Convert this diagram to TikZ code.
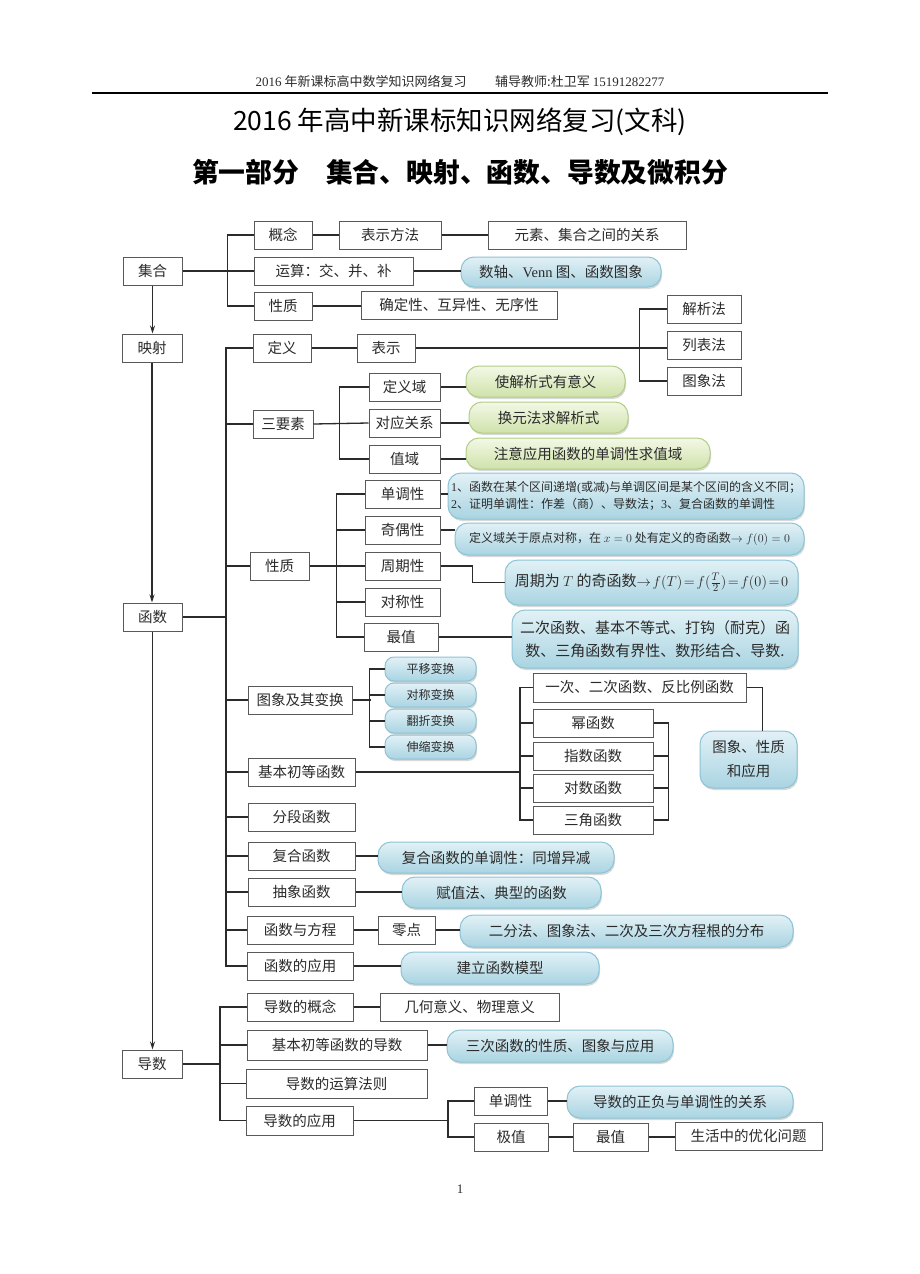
\documentclass[tikz,border=0pt]{standalone}
\usepackage{fontspec}
\setmainfont{Liberation Serif}
\newfontfamily\cjk{Noto Sans CJK SC}
\newfontfamily\tm{Liberation Serif}
\usetikzlibrary{arrows.meta,shadows}
\definecolor{bluebd}{HTML}{8CC3D5}
\definecolor{bluetop}{HTML}{E2F1F6}
\definecolor{bluebot}{HTML}{A9D4E2}
\definecolor{greenbd}{HTML}{B3CD86}
\definecolor{greentop}{HTML}{F3F8E6}
\definecolor{greenbot}{HTML}{CFE2AA}
\definecolor{ink}{HTML}{2B2B2B}
\newcommand{\fsz}[2]{\fontsize{#1}{#2}\selectfont}
\newcommand{\eqs}{\mkern2mu{=}\mkern2mu}
\newcommand{\R}[6]{\node[rbox,minimum width=#4,minimum height=#5] (#1) at (#2,#3) {#6};}
\newcommand{\B}[6]{\node[bnote,minimum width=#4,minimum height=#5] (#1) at (#2,#3) {#6};}
\newcommand{\G}[6]{\node[gnote,minimum width=#4,minimum height=#5] (#1) at (#2,#3) {#6};}
\begin{document}
\begin{tikzpicture}[x=1pt,y=-1pt,
 line/.style={draw=ink, line width=1.3pt},
 rbox/.style={draw=black!65, line width=1pt, fill=white, inner sep=0pt, text=ink, font=\cjk\fsz{14.5}{17},
   drop shadow={shadow xshift=1pt,shadow yshift=-1pt,opacity=0.25}},
 bnote/.style={draw=bluebd, line width=1pt, top color=bluetop, bottom color=bluebot, rounded corners=13pt,
   inner sep=0pt, text=ink, font=\cjk\fsz{14.5}{17},
   drop shadow={shadow xshift=1pt,shadow yshift=-2pt,opacity=0.3}},
 gnote/.style={bnote, draw=greenbd, top color=greentop, bottom color=greenbot},
 arr/.style={draw=ink, line width=1.3pt, -{Stealth[length=8pt,width=5pt]}}
]
\useasboundingbox (0,0) rectangle (920,1274);
\fill[white] (0,0) rectangle (920,1274);

% header and titles
\node[font=\cjk\fsz{13}{15}, text=ink] (hdr) at (460,81) {{\tm 2016} 年新课标高中数学知识网络复习\hspace{2.2em}辅导教师:杜卫军 {\tm 15191282277}};
\draw[line width=1.5pt] (92,93) -- (828,93);
\node[font=\cjk\fsz{26.5}{30}] (t1) at (460,122) {2016 年高中新课标知识网络复习(文科)};
\node[font=\cjk\bfseries\fsz{26.8}{30}] (t2) at (460,172) {第一部分\hspace{1em}集合、映射、函数、导数及微积分};

% left column
\R{jihe}{152.5}{271}{59}{28}{集合}
\R{yingshe}{152}{348}{60}{28}{映射}
\R{hanshu}{152.5}{617}{59}{28}{函数}
\R{daoshu}{152}{1064}{60}{28}{导数}
\draw[arr] (jihe.south) -- (jihe.south |- yingshe.north);
\draw[arr] (yingshe.south) -- (yingshe.south |- hanshu.north);
\draw[arr] (hanshu.south) -- (hanshu.south |- daoshu.north);

% 集合 branch
\R{gainian}{283}{235}{58}{28}{概念}
\R{bsff}{390}{235}{102}{28}{表示方法}
\R{yuansu}{587}{235}{198}{28}{元素、集合之间的关系}
\R{yunsuan}{333.5}{271}{159}{28}{运算：交、并、补}
\B{venn}{561}{272}{200}{30}{数轴、{\tm Venn} 图、函数图象}
\R{xingzhiA}{283}{306}{58}{28}{性质}
\R{queding}{459}{305}{196}{28}{确定性、互异性、无序性}
\draw[line] (jihe.east) -- (yunsuan.west);
\draw[line] (gainian.west) -- ++(-26,0) |- (xingzhiA.west);
\draw[line] (gainian.east) -- (bsff.west);
\draw[line] (bsff.east) -- (yuansu.west);
\draw[line] (yunsuan.east) -- (venn.west |- yunsuan.east);
\draw[line] (xingzhiA.east) -- (queding.west |- xingzhiA.east);

% 函数 branch
\coordinate (sp) at (226,0);
\R{dingyi}{282}{348}{58}{28}{定义}
\R{biaoshi}{386}{348}{58}{28}{表示}
\R{jiexi}{704}{309}{74}{28}{解析法}
\R{liebiao}{704}{345}{74}{28}{列表法}
\R{tuxiangfa}{704}{381}{74}{28}{图象法}
\R{sanyaosu}{283}{424}{60}{28}{三要素}
\R{dingyiyu}{404.5}{387}{71}{28}{定义域}
\R{duiying}{404.5}{423}{71}{28}{对应关系}
\R{zhiyu}{404.5}{459}{71}{28}{值域}
\G{jxs}{545.5}{381.5}{159}{31}{使解析式有意义}
\G{hy}{548.5}{417.5}{159}{31}{换元法求解析式}
\G{zysx}{588}{453.5}{244}{31}{注意应用函数的单调性求值域}
\R{xingzhiB}{279.5}{566}{59}{28}{性质}
\R{dandiao}{402.5}{494}{75}{28}{单调性}
\R{jiou}{402.5}{530}{75}{28}{奇偶性}
\R{zhouqi}{402.5}{566}{75}{28}{周期性}
\R{duichen}{402.5}{602}{75}{28}{对称性}
\R{zuizhiA}{401}{637}{74}{28}{最值}
\node[bnote,minimum width=356,minimum height=46,align=left,font=\cjk\fsz{12}{17.5}] (ddnote) at (626,496)
 {{\tm 1}、函数在某个区间递增{\tm (}或减{\tm )}与单调区间是某个区间的含义不同；\\{\tm 2}、证明单调性：作差（商）、导数法；{\tm 3}、复合函数的单调性};
\node[bnote,minimum width=349,minimum height=32,font=\cjk\fsz{12}{14}] (jionote) at (629.5,539)
 {定义域关于原点对称，在 $x=0$ 处有定义的奇函数$\rightarrow f(0)=0$};
\node[bnote,minimum width=293,minimum height=45,font=\cjk\fsz{15}{18}] (zqnote) at (651.5,582.5)
 {周期为 $T$ 的奇函数$\rightarrow\!f(T)\eqs f(\frac{T}{2})\eqs f(0)\eqs 0$};
\node[bnote,minimum width=286,minimum height=58,align=center,font=\cjk\fsz{15}{23}] (zznote) at (655,639)
 {二次函数、基本不等式、打钩（耐克）函\\数、三角函数有界性、数形结合、导数.};
\R{tuxiangbh}{300}{700}{104}{28}{图象及其变换}
\node[bnote,minimum width=91,minimum height=24,rounded corners=9pt,font=\cjk\fsz{12}{14}] (pingyi) at (430.5,669) {平移变换};
\node[bnote,minimum width=91,minimum height=24,rounded corners=9pt,font=\cjk\fsz{12}{14}] (duichenbh) at (430.5,695) {对称变换};
\node[bnote,minimum width=91,minimum height=24,rounded corners=9pt,font=\cjk\fsz{12}{14}] (fanzhe) at (430.5,721) {翻折变换};
\node[bnote,minimum width=91,minimum height=24,rounded corners=9pt,font=\cjk\fsz{12}{14}] (shensuo) at (430.5,747) {伸缩变换};
\R{jichu}{301.5}{772}{107}{28}{基本初等函数}
\R{yici}{639.5}{687.5}{213}{29}{一次、二次函数、反比例函数}
\R{mi}{593}{723}{120}{28}{幂函数}
\R{zhishu}{593}{756}{120}{28}{指数函数}
\R{duishu}{593}{788}{120}{28}{对数函数}
\R{sanjiao}{593}{820}{120}{28}{三角函数}
\node[bnote,minimum width=97,minimum height=57,align=center,font=\cjk\fsz{14.5}{24}] (txxz) at (748.5,759.5) {图象、性质\\和应用};
\R{fenduan}{301.5}{817}{107}{28}{分段函数}
\R{fuhe}{301.5}{856}{107}{28}{复合函数}
\B{fhnote}{496}{857.5}{236}{31}{复合函数的单调性：同增异减}
\R{chouxiang}{301.5}{892}{107}{28}{抽象函数}
\B{fznote}{501.5}{892.5}{199}{31}{赋值法、典型的函数}
\R{fangcheng}{300}{930}{106}{28}{函数与方程}
\R{lingdian}{406.5}{930}{57}{28}{零点}
\B{lingnote}{626.5}{931}{333}{32}{二分法、图象法、二次及三次方程根的分布}
\R{yingyong}{300}{966}{106}{28}{函数的应用}
\B{mxnote}{500}{968}{198}{32}{建立函数模型}

\draw[line] (hanshu.east) -- (hanshu.east -| sp);
\draw[line] (dingyi.west) -- (dingyi.west -| sp) |- (yingyong.west);
\foreach \n in {sanyaosu,xingzhiB,tuxiangbh,jichu,fenduan,fuhe,chouxiang,fangcheng}
  \draw[line] (\n.west) -- (\n.west -| sp);
\draw[line] (dingyi.east) -- (biaoshi.west);
\draw[line] (biaoshi.east) -- (liebiao.west |- biaoshi.east);
\draw[line] (jiexi.west) -- ++(-27,0) |- (tuxiangfa.west);
\draw[line] (sanyaosu.east) -- (duiying.west);
\draw[line] (dingyiyu.west) -- ++(-29,0) |- (zhiyu.west);
\draw[line] (dingyiyu.east) -- (jxs.west |- dingyiyu.east);
\draw[line] (duiying.east) -- (hy.west |- duiying.east);
\draw[line] (zhiyu.east) -- (zysx.west |- zhiyu.east);
\draw[line] (xingzhiB.east) -- (zhouqi.west);
\draw[line] (dandiao.west) -- ++(-28,0) |- (zuizhiA.west);
\foreach \n in {jiou,duichen}
  \draw[line] (\n.west) -- ++(-28,0);
\draw[line] (dandiao.east) -- (ddnote.west |- dandiao.east);
\draw[line] (jiou.east) -- (jionote.west |- jiou.east);
\draw[line] (zhouqi.east) -- ++(32,0) |- (zqnote.west);
\draw[line] (zuizhiA.east) -- (zznote.west |- zuizhiA.east);
\draw[line] (tuxiangbh.east) -- ++(18,0);
\draw[line] (pingyi.west) -- ++(-15,0) |- (shensuo.west);
\foreach \n in {duichenbh,fanzhe}
  \draw[line] (\n.west) -- ++(-15,0);
\coordinate (sp3) at (520,0);
\draw[line] (jichu.east) -- (jichu.east -| sp3);
\draw[line] (yici.west) -- (yici.west -| sp3) |- (sanjiao.west);
\foreach \n in {mi,zhishu,duishu}
  \draw[line] (\n.west) -- (\n.west -| sp3);
\draw[line] (mi.east) -- ++(15,0) |- (sanjiao.east);
\foreach \n in {zhishu,duishu}
  \draw[line] (\n.east) -- ++(15,0);
\draw[line] (yici.east) -- ++(16,0) coordinate (c1) -- (c1 |- txxz.north);
\draw[line] (fuhe.east) -- (fhnote.west |- fuhe.east);
\draw[line] (chouxiang.east) -- (fznote.west |- chouxiang.east);
\draw[line] (fangcheng.east) -- (lingdian.west);
\draw[line] (lingdian.east) -- (lingnote.west |- lingdian.east);
\draw[line] (yingyong.east) -- (mxnote.west |- yingyong.east);

% 导数 branch
\coordinate (sp4) at (220,0);
\coordinate (sp5) at (448,0);
\R{dsgn}{300}{1007}{106}{28}{导数的概念}
\R{jhyy}{469.5}{1007}{179}{28}{几何意义、物理意义}
\R{jcds}{337}{1045}{180}{30}{基本初等函数的导数}
\B{sancinote}{560}{1046}{226}{32}{三次函数的性质、图象与应用}
\R{ysfz}{336.5}{1083.5}{181}{29}{导数的运算法则}
\R{dsyy}{299.5}{1120.5}{107}{29}{导数的应用}
\R{dd2}{510.5}{1101}{73}{28}{单调性}
\B{zfnote}{680}{1102}{226}{32}{导数的正负与单调性的关系}
\R{jizhi}{511}{1137}{74}{28}{极值}
\R{zuizhiB}{610.5}{1137}{75}{28}{最值}
\R{youhua}{748.5}{1136}{147}{28}{生活中的优化问题}
\draw[line] (daoshu.east) -- (daoshu.east -| sp4);
\draw[line] (dsgn.west) -- (dsgn.west -| sp4) |- (dsyy.west);
\foreach \n in {jcds,ysfz}
  \draw[line] (\n.west) -- (\n.west -| sp4);
\draw[line] (dsgn.east) -- (jhyy.west |- dsgn.east);
\draw[line] (jcds.east) -- (sancinote.west |- jcds.east);
\draw[line] (dsyy.east) -- (dsyy.east -| sp5);
\draw[line] (dd2.west) -- (dd2.west -| sp5) |- (jizhi.west);
\draw[line] (dd2.east) -- (zfnote.west |- dd2.east);
\draw[line] (jizhi.east) -- (zuizhiB.west);
\draw[line] (zuizhiB.east) -- (youhua.west |- zuizhiB.east);

\node[font=\tm\fsz{13}{15}, text=ink] (pg) at (460,1189) {1};
\end{tikzpicture}
\end{document}
